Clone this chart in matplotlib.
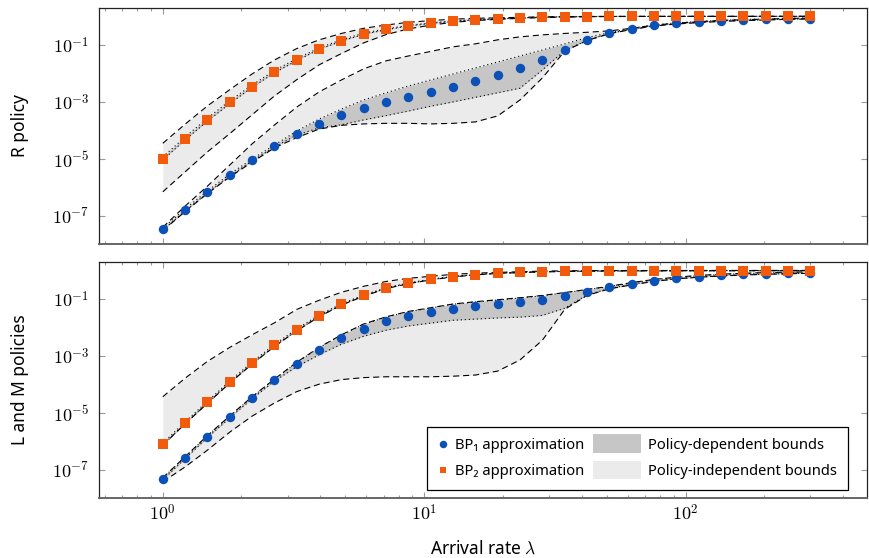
import numpy as np
import matplotlib
matplotlib.use("Agg")
import matplotlib.pyplot as plt
from matplotlib.patches import Rectangle, Patch
from matplotlib.lines import Line2D
from matplotlib.legend_handler import HandlerBase
from matplotlib.ticker import FixedLocator, FixedFormatter, LogLocator, NullFormatter, NullLocator

plt.rcParams['font.family'] = ['Noto Sans', 'DejaVu Sans']
plt.rcParams['mathtext.fontset'] = 'cm'

# ---------------- data (exponents, log10 of the plotted value) ----------------
lam = [1.0, 1.217, 1.482, 1.804, 2.196, 2.674, 3.255, 3.963, 4.824, 5.873,
       7.150, 8.704, 10.60, 12.90, 15.70, 19.12, 23.27, 28.33, 34.49, 41.99,
       51.12, 62.23, 75.76, 92.23, 112.3, 136.7, 166.4, 202.6, 246.4, 300.0]

# R policy (top)
top_bp1 = [-7.46, -6.79, -6.16, -5.56, -5.04, -4.54, -4.12, -3.76, -3.46, -3.20,
           -3.00, -2.82, -2.65, -2.47, -2.27, -2.06, -1.82, -1.52, -1.175, -0.835,
           -0.59, -0.44, -0.32, -0.25, -0.20, -0.16, -0.13, -0.11, -0.088, -0.077]
top_bp1_dep_hi = [-7.42, -6.75, -6.12, -5.53, -5.00, -4.51, -4.02, -3.60, -3.25, -2.93,
                  -2.68, -2.44, -2.23, -2.02, -1.81, -1.60, -1.39, -1.18, -0.965, -0.75,
                  -0.57, -0.42, -0.30, -0.23, -0.18, -0.14, -0.11, -0.09, -0.07, -0.06]
top_bp1_dep_lo = [-7.49, -6.82, -6.19, -5.60, -5.07, -4.58, -4.16, -3.91, -3.80, -3.63,
                  -3.48, -3.32, -3.15, -3.00, -2.84, -2.68, -2.52, -1.88, -1.20, -0.84,
                  -0.60, -0.45, -0.33, -0.26, -0.21, -0.17, -0.14, -0.12, -0.098, -0.087]
top_bp1_ind_hi = [-7.39, -6.65, -5.95, -5.21, -4.47, -3.81, -3.18, -2.65, -2.23, -1.84,
                  -1.56, -1.39, -1.23, -1.07, -0.965, -0.825, -0.72, -0.65, -0.60, -0.56,
                  -0.51, -0.42, -0.31, -0.24, -0.19, -0.144, -0.12, -0.098, -0.074, -0.063]
top_bp1_ind_lo = [-7.51, -6.84, -6.21, -5.63, -5.11, -4.61, -4.25, -3.95, -3.82, -3.77,
                  -3.75, -3.75, -3.77, -3.75, -3.70, -3.49, -2.93, -2.16, -1.22, -0.85,
                  -0.61, -0.46, -0.34, -0.27, -0.22, -0.18, -0.15, -0.13, -0.105, -0.095]

top_bp2 = [-4.99, -4.29, -3.63, -3.02, -2.46, -1.95, -1.52, -1.14, -0.85, -0.61,
           -0.46, -0.33, -0.24, -0.17, -0.12, -0.088, -0.053, -0.028, -0.018, -0.007,
           -0.005, -0.004, -0.003, -0.003, -0.002, -0.002, -0.002, -0.001, -0.001, -0.001]
top_bp2_dep_hi = [-4.93, -4.23, -3.57, -2.96, -2.41, -1.90, -1.48, -1.11, -0.82, -0.59,
                  -0.44, -0.32, -0.23, -0.16, -0.115, -0.084, -0.050, -0.026, -0.016, -0.006,
                  -0.004, -0.003, -0.002, -0.002, -0.001, -0.001, -0.001, -0.0005, -0.0005, -0.0005]
top_bp2_dep_lo = [-5.03, -4.33, -3.67, -3.06, -2.49, -1.98, -1.55, -1.16, -0.87, -0.63,
                  -0.47, -0.34, -0.25, -0.18, -0.125, -0.092, -0.056, -0.030, -0.020, -0.008,
                  -0.006, -0.005, -0.004, -0.004, -0.003, -0.003, -0.003, -0.002, -0.002, -0.002]
top_bp2_ind_hi = [-4.45, -3.78, -3.14, -2.57, -2.02, -1.53, -1.13, -0.825, -0.60, -0.42,
                  -0.305, -0.21, -0.15, -0.10, -0.07, -0.053, -0.035, -0.018, -0.011, -0.005,
                  -0.003, -0.002, -0.001, -0.001, -0.0005, -0.0005, -0.0005, 0.0, 0.0, 0.0]
top_bp2_ind_lo = [-6.15, -5.45, -4.75, -4.11, -3.45, -2.79, -2.22, -1.70, -1.305, -0.93,
                  -0.64, -0.44, -0.31, -0.21, -0.15, -0.105, -0.070, -0.046, -0.028, -0.014,
                  -0.008, -0.006, -0.005, -0.005, -0.004, -0.004, -0.004, -0.003, -0.003, -0.003]

# L and M policies (bottom)
bot_bp1 = [-7.31, -6.57, -5.83, -5.14, -4.47, -3.85, -3.28, -2.79, -2.37, -2.04,
           -1.79, -1.60, -1.47, -1.34, -1.26, -1.19, -1.12, -1.04, -0.91, -0.76,
           -0.60, -0.47, -0.36, -0.28, -0.22, -0.17, -0.14, -0.115, -0.095, -0.08]
bot_bp1_dep_hi = [-7.28, -6.54, -5.80, -5.11, -4.44, -3.82, -3.23, -2.71, -2.27, -1.89,
                  -1.64, -1.45, -1.32, -1.19, -1.11, -1.04, -0.97, -0.89, -0.79, -0.68,
                  -0.57, -0.44, -0.33, -0.25, -0.19, -0.145, -0.115, -0.09, -0.075, -0.065]
bot_bp1_dep_lo = [-7.34, -6.60, -5.86, -5.17, -4.50, -3.88, -3.38, -2.96, -2.59, -2.31,
                  -2.10, -1.95, -1.85, -1.75, -1.71, -1.67, -1.64, -1.58, -1.33, -0.86,
                  -0.64, -0.49, -0.38, -0.30, -0.24, -0.19, -0.16, -0.135, -0.115, -0.10]
bot_bp1_ind_hi = [-7.27, -6.53, -5.79, -5.10, -4.43, -3.81, -3.22, -2.70, -2.26, -1.88,
                  -1.63, -1.44, -1.31, -1.18, -1.10, -1.03, -0.96, -0.88, -0.78, -0.67,
                  -0.56, -0.43, -0.32, -0.24, -0.18, -0.135, -0.105, -0.08, -0.065, -0.055]
bot_bp1_ind_lo = [-7.41, -6.89, -6.30, -5.67, -5.11, -4.65, -4.25, -3.99, -3.83, -3.76,
                  -3.73, -3.73, -3.73, -3.71, -3.67, -3.53, -3.14, -2.45, -1.37, -0.88,
                  -0.65, -0.51, -0.39, -0.30, -0.24, -0.20, -0.165, -0.14, -0.12, -0.105]

bot_bp2 = [-6.09, -5.34, -4.62, -3.91, -3.245, -2.63, -2.08, -1.59, -1.19, -0.88,
           -0.62, -0.45, -0.32, -0.22, -0.15, -0.10, -0.073, -0.05, -0.035, -0.025,
           -0.02, -0.017, -0.015, -0.013, -0.012, -0.011, -0.01, -0.01, -0.009, -0.009]
bot_bp2_dep_hi = [-6.06, -5.31, -4.59, -3.88, -3.215, -2.60, -2.05, -1.565, -1.17, -0.865,
                  -0.61, -0.44, -0.313, -0.215, -0.146, -0.097, -0.070, -0.048, -0.033, -0.023,
                  -0.018, -0.015, -0.013, -0.011, -0.010, -0.009, -0.008, -0.008, -0.007, -0.007]
bot_bp2_dep_lo = [-6.12, -5.37, -4.65, -3.94, -3.275, -2.66, -2.11, -1.615, -1.21, -0.895,
                  -0.63, -0.46, -0.327, -0.225, -0.154, -0.103, -0.076, -0.052, -0.037, -0.027,
                  -0.022, -0.019, -0.017, -0.015, -0.014, -0.013, -0.012, -0.012, -0.011, -0.011]
bot_bp2_ind_hi = [-4.43, -3.78, -3.19, -2.70, -2.26, -1.84, -1.37, -1.05, -0.77, -0.56,
                  -0.39, -0.28, -0.21, -0.14, -0.10, -0.073, -0.049, -0.028, -0.017, -0.010,
                  -0.008, -0.007, -0.006, -0.005, -0.005, -0.004, -0.004, -0.004, -0.003, -0.003]
bot_bp2_ind_lo = [-6.13, -5.38, -4.66, -3.95, -3.285, -2.67, -2.12, -1.625, -1.22, -0.905,
                  -0.64, -0.47, -0.335, -0.232, -0.16, -0.108, -0.08, -0.056, -0.04, -0.03,
                  -0.025, -0.022, -0.02, -0.018, -0.017, -0.016, -0.015, -0.015, -0.014, -0.014]

xtick_vals = [1, 10, 100]
xtick_labels = [r'$10^{0}$', r'$10^{1}$', r'$10^{2}$']
ytick_vals = [1e-1, 1e-3, 1e-5, 1e-7]
ytick_labels = [r'$10^{-1}$', r'$10^{-3}$', r'$10^{-5}$', r'$10^{-7}$']

ylabels = ['R policy', 'L and M policies']
xlabel = r'Arrival rate $\lambda$'
legend_labels = ['BP₁ approximation', 'BP₂ approximation',
                 'Policy-dependent bounds', 'Policy-independent bounds']

# ---------------- style ----------------
BLUE = '#0b51b8'
ORANGE = '#f35b0c'
DARK = '#c6c6c6'
LIGHT = '#ebebeb'
DASH = (0, (5.5, 3.5))
DOT = (0, (1.0, 2.6))

fig = plt.figure(figsize=(8.7, 5.58), dpi=100)
ax_top = fig.add_axes([0.1138, 0.5627, 0.8828, 0.4229])
ax_bot = fig.add_axes([0.1138, 0.1075, 0.8828, 0.4229])


def p(v):
    return 10.0 ** np.asarray(v, dtype=float)


def draw(ax, bp1, b1dh, b1dl, b1ih, b1il, bp2, b2dh, b2dl, b2ih, b2il):
    x = np.asarray(lam)
    for ih, il in ((b1ih, b1il), (b2ih, b2il)):
        ax.fill_between(x, p(il), p(ih), color=LIGHT, lw=0, zorder=1)
    for dh, dl in ((b1dh, b1dl), (b2dh, b2dl)):
        ax.fill_between(x, p(dl), p(dh), color=DARK, lw=0, zorder=2)
    for arr in (b1ih, b1il, b2ih, b2il):
        ax.plot(x, p(arr), color='black', lw=0.8, ls=DASH, zorder=3)
    for arr in (b1dh, b1dl, b2dh, b2dl):
        ax.plot(x, p(arr), color='black', lw=0.8, ls=DOT, zorder=3)
    ax.plot(x, p(bp1), 'o', color=BLUE, ms=6.8, mew=0, zorder=5)
    ax.plot(x, p(bp2), 's', color=ORANGE, ms=6.5, mew=0, zorder=5)

    ax.set_xscale('log')
    ax.set_yscale('log')
    ax.set_xlim(0.57, 495)
    ax.set_ylim(1.05e-8, 1.95)
    ax.xaxis.set_major_locator(FixedLocator(xtick_vals))
    ax.xaxis.set_major_formatter(FixedFormatter(xtick_labels))
    ax.xaxis.set_minor_locator(LogLocator(base=10, subs=np.arange(2, 10), numticks=30))
    ax.xaxis.set_minor_formatter(NullFormatter())
    ax.yaxis.set_major_locator(FixedLocator(ytick_vals))
    ax.yaxis.set_major_formatter(FixedFormatter(ytick_labels))
    ax.yaxis.set_minor_locator(NullLocator())
    ax.tick_params(which='both', direction='in', top=True, right=True,
                   color='#9a9a9a', width=0.8, labelsize=13)
    ax.tick_params(which='major', length=4)
    ax.tick_params(which='minor', length=2.5)
    ax.tick_params(axis='y', pad=7)
    ax.tick_params(axis='x', pad=4)
    for s in ('top', 'left', 'right'):
        ax.spines[s].set_color('#222222')
        ax.spines[s].set_linewidth(0.9)
    ax.spines['bottom'].set_color('#666666')
    ax.spines['bottom'].set_linewidth(1.4)


draw(ax_top, top_bp1, top_bp1_dep_hi, top_bp1_dep_lo, top_bp1_ind_hi, top_bp1_ind_lo,
     top_bp2, top_bp2_dep_hi, top_bp2_dep_lo, top_bp2_ind_hi, top_bp2_ind_lo)
draw(ax_bot, bot_bp1, bot_bp1_dep_hi, bot_bp1_dep_lo, bot_bp1_ind_hi, bot_bp1_ind_lo,
     bot_bp2, bot_bp2_dep_hi, bot_bp2_dep_lo, bot_bp2_ind_hi, bot_bp2_ind_lo)

ax_top.tick_params(axis='x', labelbottom=False)

ax_top.set_ylabel(ylabels[0], fontsize=12.5)
ax_bot.set_ylabel(ylabels[1], fontsize=12.5)
ax_top.yaxis.set_label_coords(-0.091, 0.5)
ax_bot.yaxis.set_label_coords(-0.091, 0.5)
ax_bot.set_xlabel(xlabel, fontsize=12.5)
ax_bot.xaxis.set_label_coords(0.5, -0.178)


class WidePatchHandler(HandlerBase):
    def __init__(self, extra):
        super().__init__()
        self.extra = extra

    def create_artists(self, legend, orig_handle, xdescent, ydescent, width, height,
                       fontsize, trans):
        r = Rectangle((-xdescent - self.extra, -ydescent - 0.4 * height),
                      width + self.extra, height * 1.8,
                      facecolor=orig_handle.get_facecolor(), edgecolor='none',
                      transform=trans)
        return [r]


h_bp1 = Line2D([], [], marker='o', color=BLUE, ls='none', ms=5.4, mew=0)
h_bp2 = Line2D([], [], marker='s', color=ORANGE, ms=5.0, mew=0)
h_bp2.set_linestyle('none')
h_dep = Patch(facecolor=DARK)
h_ind = Patch(facecolor=LIGHT)
leg = ax_bot.legend([h_bp1, h_bp2, h_dep, h_ind], legend_labels, ncol=2,
                    loc='lower right', bbox_to_anchor=(0.975, 0.034), borderaxespad=0,
                    fontsize=10.6, handlelength=0.7, handletextpad=0.5,
                    columnspacing=3.1, labelspacing=0.75, borderpad=0.75,
                    fancybox=False, framealpha=1, edgecolor='black',
                    handler_map={Patch: WidePatchHandler(27)})
leg.get_frame().set_linewidth(0.9)
leg.set_zorder(10)

fig.savefig('out.png', dpi=100)
